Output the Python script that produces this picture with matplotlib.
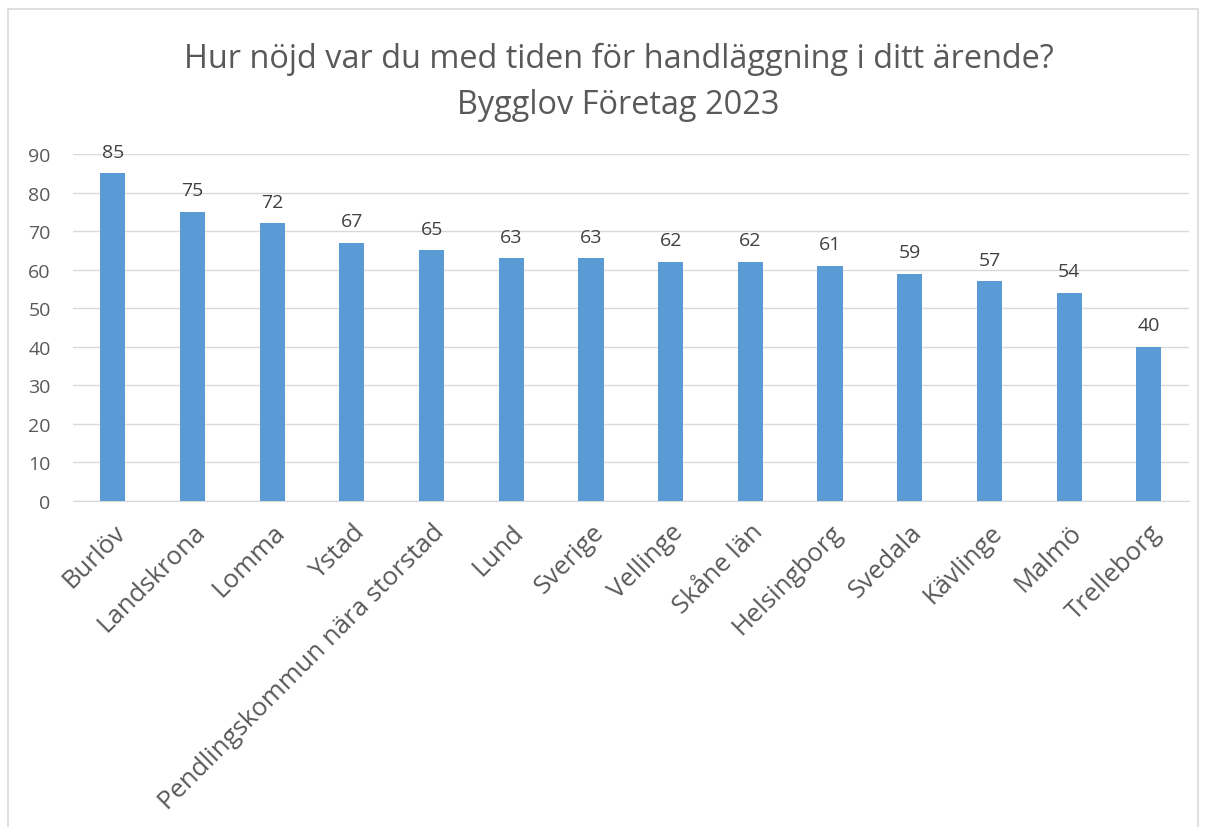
import matplotlib.pyplot as plt
from matplotlib.patches import Rectangle

# Chart data
kommuner = ['Burlöv', 'Landskrona', 'Lomma', 'Ystad', 'Pendlingskommun nära storstad',
            'Lund', 'Sverige', 'Vellinge', 'Skåne län', 'Helsingborg', 'Svedala',
            'Kävlinge', 'Malmö', 'Trelleborg']
nojd_index = [85, 75, 72, 67, 65, 63, 63, 62, 62, 61, 59, 57, 54, 40]
y_ticks = [0, 10, 20, 30, 40, 50, 60, 70, 80, 90]

plt.rcParams['font.family'] = ['Open Sans', 'DejaVu Sans']
text_color = '#595959'

fig = plt.figure(figsize=(12.08, 8.28), dpi=100)
ax = fig.add_axes([0.0604, 0.3937, 0.9236, 0.4191])

x = range(len(kommuner))
ax.bar(x, nojd_index, width=0.315, color='#5B9BD5', zorder=3)

for xi, val in zip(x, nojd_index):
    ax.annotate(str(val), (xi, val), xytext=(0, 9), textcoords='offset points',
                ha='center', va='bottom', fontsize=14, color='#404040')

ax.set_xlim(-0.5, len(kommuner) - 0.5)
ax.set_ylim(0, 90)
ax.set_yticks(y_ticks)
ax.tick_params(axis='y', length=0, labelsize=14, labelcolor=text_color, pad=16)
ax.set_xticks(list(x))
ax.set_xticklabels(kommuner, rotation=45, ha='right', rotation_mode='anchor',
                   fontsize=18.5, color=text_color)
ax.tick_params(axis='x', length=0, pad=13)
ax.grid(axis='y', color='#D9D9D9', linewidth=1, zorder=0)

for side in ['top', 'right', 'left']:
    ax.spines[side].set_visible(False)
ax.spines['bottom'].set_color('#D9D9D9')

fig.text(0.512, 0.948, 'Hur nöjd var du med tiden för handläggning i ditt ärende?\nBygglov Företag 2023',
         ha='center', va='top', fontsize=23.4, color=text_color, linespacing=1.5)

# light frame around the chart area
fig.patches.append(Rectangle((8 / 1208, -0.01), 1190 / 1208, 1 - 10 / 828 + 0.01,
                             transform=fig.transFigure, fill=False,
                             edgecolor='#D9D9D9', linewidth=1.2))

fig.savefig('out.png', dpi=100)
